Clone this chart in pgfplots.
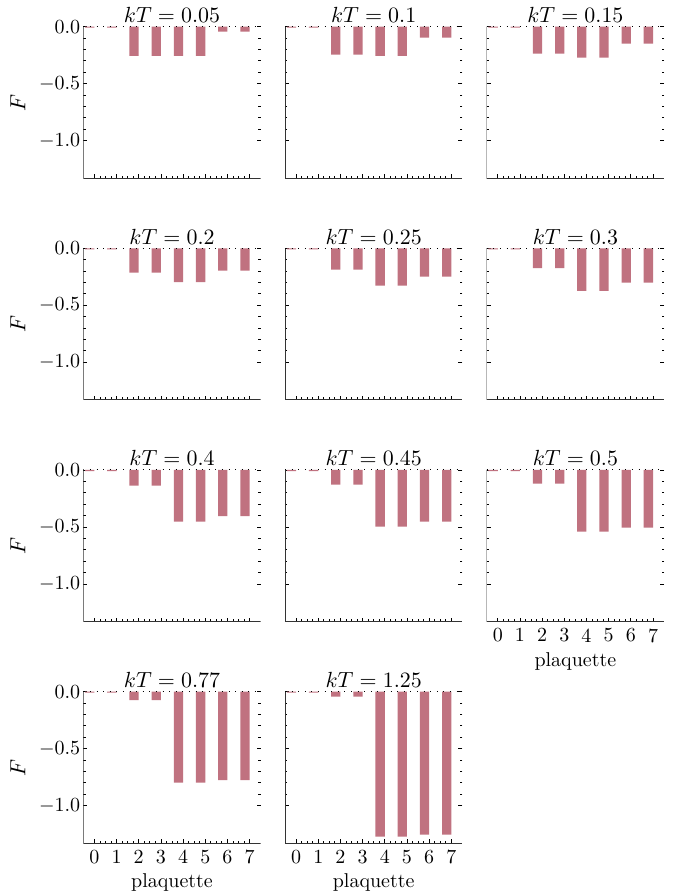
\documentclass[border=0pt]{standalone}
\usepackage{pgfplots}
\pgfplotsset{compat=1.18}
\definecolor{barc}{RGB}{192,114,128}
\pgfplotsset{
 panel/.style={
  scale only axis, width=88.7pt, height=75.8pt,
  anchor=south west,
  xmin=-0.5, xmax=7.5, ymin=-1.33, ymax=0,
  xtick={0,1,2,3,4,5,6,7}, ytick={0,-0.5,-1},
  minor y tick num=4, minor x tick num=3,
  xticklabels={}, yticklabels={},
  tick align=inside, ytick pos=both, xtick pos=bottom, yticklabel pos=left,
  major tick length=2pt, minor tick length=1.2pt,
  tick style={black, line width=0.4pt},
  axis line style={draw=none},
  every axis title shift=0pt,
  title style={at={(0.5,1)}, anchor=base, yshift=2pt, font=\fontsize{11.3}{13.5}\selectfont},
  ylabel style={font=\fontsize{11}{13}\selectfont},
 },
 leftcol/.style={yticklabels={$0.0$,$-0.5$,$-1.0$}, ylabel={$F$}, yticklabel style={xshift=2pt}},
 botrow/.style={xticklabels={0,1,2,3,4,5,6,7}, xlabel={plaquette}, xlabel style={yshift=2pt}},
}
\newcommand{\frm}{%
 \draw[black!80, line width=0.6pt] (rel axis cs:0,1) -- (rel axis cs:0,0) -- (rel axis cs:1,0);
 \draw[black, line width=0.5pt, dash pattern=on 0.5pt off 2.8pt] (rel axis cs:0,1) -- (rel axis cs:1,1);
}
\tikzset{bars/.style={ybar, fill=barc, draw=none, bar width=0.42, bar shift=-0.21}}
\begin{document}
\begin{tikzpicture}
\useasboundingbox (0,0) rectangle (341.5pt,446pt);
% row 1
\begin{axis}[panel, leftcol, at={(41.65pt,356.85pt)}, title={$kT = 0.05$}]
\addplot[bars] coordinates {(0,-0.009) (1,-0.009) (2,-0.257) (3,-0.257) (4,-0.257) (5,-0.257) (6,-0.044) (7,-0.044)};
\frm
\end{axis}
\begin{axis}[panel, at={(142.5pt,356.85pt)}, title={$kT = 0.1$}]
\addplot[bars] coordinates {(0,-0.009) (1,-0.009) (2,-0.245) (3,-0.245) (4,-0.257) (5,-0.257) (6,-0.096) (7,-0.096)};
\frm
\end{axis}
\begin{axis}[panel, at={(243.35pt,356.85pt)}, title={$kT = 0.15$}]
\addplot[bars] coordinates {(0,-0.009) (1,-0.009) (2,-0.237) (3,-0.237) (4,-0.272) (5,-0.272) (6,-0.149) (7,-0.149)};
\frm
\end{axis}
% row 2
\begin{axis}[panel, leftcol, at={(41.65pt,246.05pt)}, title={$kT = 0.2$}]
\addplot[bars] coordinates {(0,-0.009) (1,-0.009) (2,-0.213) (3,-0.213) (4,-0.296) (5,-0.296) (6,-0.196) (7,-0.196)};
\frm
\end{axis}
\begin{axis}[panel, at={(142.5pt,246.05pt)}, title={$kT = 0.25$}]
\addplot[bars] coordinates {(0,-0.009) (1,-0.009) (2,-0.187) (3,-0.187) (4,-0.328) (5,-0.328) (6,-0.249) (7,-0.249)};
\frm
\end{axis}
\begin{axis}[panel, at={(243.35pt,246.05pt)}, title={$kT = 0.3$}]
\addplot[bars] coordinates {(0,-0.009) (1,-0.009) (2,-0.173) (3,-0.173) (4,-0.374) (5,-0.374) (6,-0.301) (7,-0.301)};
\frm
\end{axis}
% row 3
\begin{axis}[panel, leftcol, at={(41.65pt,135.2pt)}, title={$kT = 0.4$}]
\addplot[bars] coordinates {(0,-0.009) (1,-0.009) (2,-0.137) (3,-0.137) (4,-0.453) (5,-0.453) (6,-0.404) (7,-0.404)};
\frm
\end{axis}
\begin{axis}[panel, at={(142.5pt,135.2pt)}, title={$kT = 0.45$}]
\addplot[bars] coordinates {(0,-0.009) (1,-0.009) (2,-0.129) (3,-0.129) (4,-0.497) (5,-0.497) (6,-0.453) (7,-0.453)};
\frm
\end{axis}
\begin{axis}[panel, botrow, at={(243.35pt,135.2pt)}, title={$kT = 0.5$}]
\addplot[bars] coordinates {(0,-0.009) (1,-0.009) (2,-0.120) (3,-0.120) (4,-0.541) (5,-0.541) (6,-0.506) (7,-0.506)};
\frm
\end{axis}
% row 4
\begin{axis}[panel, leftcol, botrow, at={(41.65pt,24.35pt)}, title={$kT = 0.77$}]
\addplot[bars] coordinates {(0,-0.009) (1,-0.009) (2,-0.073) (3,-0.073) (4,-0.798) (5,-0.798) (6,-0.775) (7,-0.775)};
\frm
\end{axis}
\begin{axis}[panel, botrow, at={(142.5pt,24.35pt)}, title={$kT = 1.25$}]
\addplot[bars] coordinates {(0,-0.009) (1,-0.009) (2,-0.044) (3,-0.044) (4,-1.272) (5,-1.272) (6,-1.254) (7,-1.254)};
\frm
\end{axis}
\end{tikzpicture}
\end{document}
